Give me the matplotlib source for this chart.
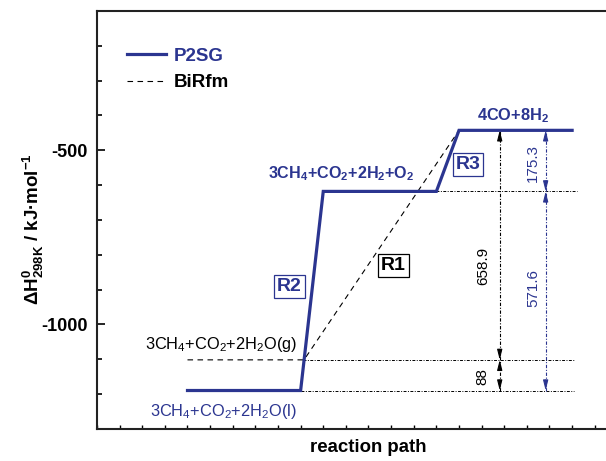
import matplotlib
matplotlib.use("Agg")
import matplotlib.pyplot as plt
from matplotlib.ticker import MultipleLocator, NullFormatter

BLUE = "#2b3590"
FONT = ["Liberation Sans", "DejaVu Sans"]

plt.rcParams["font.family"] = FONT
plt.rcParams["mathtext.default"] = "regular"
plt.rcParams["axes.unicode_minus"] = False

# energy levels, kJ/mol
H_LIQ = -1189.5   # 3CH4+CO2+2H2O(l)
H_GAS = -1101.5   # 3CH4+CO2+2H2O(g)
H_MID = -617.9    # 3CH4+CO2+2H2+O2
H_TOP = -442.6    # 4CO+8H2

x_p2sg = [4, 9, 10, 15, 16, 21]
h_p2sg = [H_LIQ, H_LIQ, H_MID, H_MID, H_TOP, H_TOP]
x_birfm = [4, 9.15, 16]
h_birfm = [H_GAS, H_GAS, H_TOP]

fig = plt.figure(figsize=(6.06, 4.61), dpi=100)
ax = fig.add_axes([97 / 606, 32 / 461, 543 / 606, 418 / 461])
ax.set_xlim(0, 24)
ax.set_ylim(-1300, -100)

ax.plot(x_p2sg, h_p2sg, color=BLUE, lw=2.3, label="P2SG", zorder=3,
        solid_joinstyle="miter")
ax.plot(x_birfm, h_birfm, color="black", lw=0.8, ls=(0, (5, 4)),
        label="BiRfm", zorder=2)

# reference levels
dd = (0, (3, 1.5, 1, 1.5))
ax.plot([9.1, 21.1], [H_GAS, H_GAS], color="black", lw=0.7, ls=dd)
ax.plot([9.0, 21.1], [H_LIQ, H_LIQ], color="black", lw=0.7, ls=dd)
ax.plot([15.0, 21.2], [H_MID, H_MID], color="black", lw=0.7, ls=dd)


def dim(x, y0, y1, color):
    ax.plot([x, x], [y0, y1], color=color, lw=0.8, ls=dd)
    for tip, tail in ((y1, y1 - 30), (y0, y0 + 30)):
        ax.annotate("", xy=(x, tip), xytext=(x, tail),
                    arrowprops=dict(arrowstyle="-|>,head_length=0.6,head_width=0.15",
                                    color=color, lw=0.8, shrinkA=0, shrinkB=0))


dim(17.8, H_GAS, H_TOP, "black")
dim(17.8, H_LIQ, H_GAS, "black")
dim(19.83, H_MID, H_TOP, BLUE)
dim(19.83, H_LIQ, H_MID, BLUE)

ax.text(17.05, -832, "658.9", rotation=90, ha="center", va="center",
        fontsize=11, color="black")
ax.text(17.05, -1150, "88", rotation=90, ha="center", va="center",
        fontsize=11, color="black")
ax.text(19.25, -535, "175.3", rotation=90, ha="center", va="center",
        fontsize=11, color=BLUE)
ax.text(19.3, -896, "571.6", rotation=90, ha="center", va="center",
        fontsize=11, color=BLUE)

# species labels
ax.text(18.4, -399, "4CO+8H$_2$", ha="center", va="center",
        fontsize=11.8, fontweight="bold", color=BLUE)
ax.text(10.8, -566, "3CH$_4$+CO$_2$+2H$_2$+O$_2$", ha="center", va="center",
        fontsize=11.6, fontweight="bold", color=BLUE)
ax.text(5.5, -1058, "3CH$_4$+CO$_2$+2H$_2$O(g)", ha="center", va="center",
        fontsize=11.8, color="black")
ax.text(5.6, -1251, "3CH$_4$+CO$_2$+2H$_2$O(l)", ha="center", va="center",
        fontsize=11.8, color=BLUE)

# reaction boxes
for x, y, s, c in ((16.4, -540, "R3", BLUE), (13.1, -830, "R1", "black"),
                   (8.5, -890, "R2", BLUE)):
    ax.text(x, y, s, ha="center", va="center", fontsize=14, fontweight="bold",
            color=c, bbox=dict(boxstyle="square,pad=0.15", fc="white",
                               ec=c, lw=0.9))

# axes styling
for side in ("left", "bottom", "top"):
    ax.spines[side].set_linewidth(1.5)
    ax.spines[side].set_color("#222222")
ax.spines["right"].set_visible(False)

ax.yaxis.set_major_locator(MultipleLocator(500))
ax.yaxis.set_minor_locator(MultipleLocator(100))
ax.xaxis.set_major_locator(MultipleLocator(1))
ax.xaxis.set_major_formatter(NullFormatter())
ax.tick_params(axis="y", which="major", direction="in", length=6, width=1.2,
               pad=7, labelsize=13)
ax.tick_params(axis="y", which="minor", direction="in", length=3.5, width=1.2)
ax.tick_params(axis="x", which="major", direction="in", length=3, width=1)
for lab in ax.get_yticklabels():
    lab.set_fontweight("bold")

ax.set_xlabel("reaction path", fontsize=13.4, fontweight="bold", labelpad=4)
fig.text(33 / 606, 1 - 229 / 461, "ΔH$^{0}_{298K}$ / kJ·mol$^{-1}$",
         rotation=90, ha="center", va="center", fontsize=13.5,
         fontweight="bold")

leg = ax.legend(loc="upper left", bbox_to_anchor=(0.055, 0.912),
                frameon=False, borderaxespad=0, borderpad=0,
                handlelength=2.1, handletextpad=0.4, labelspacing=0.5,
                prop=dict(family=FONT, weight="bold", size=13.5))
leg.get_texts()[0].set_color(BLUE)

fig.savefig("out.png", dpi=100)
